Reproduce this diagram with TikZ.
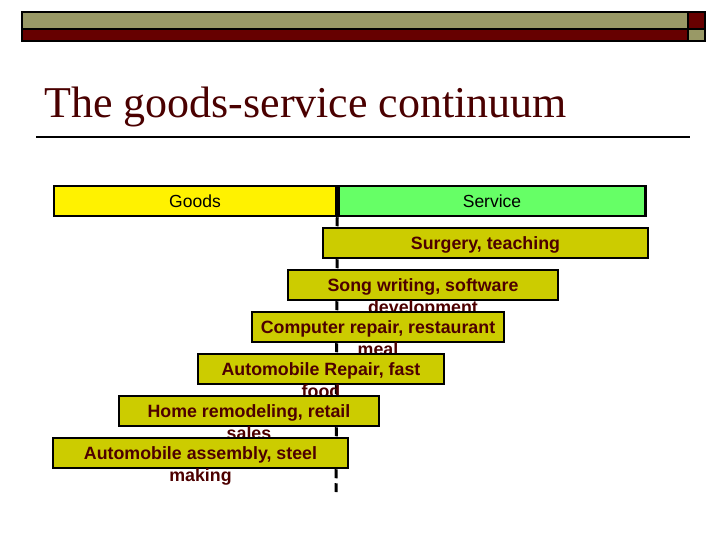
\documentclass[tikz,border=0pt]{standalone}
\usepackage{fontspec}
\setmainfont{Liberation Serif}
\setsansfont{Liberation Sans}
\usetikzlibrary{positioning}

\definecolor{barolive}{HTML}{999966}
\definecolor{barred}{HTML}{660000}
\definecolor{titlemaroon}{HTML}{4A0000}
\definecolor{servicegreen}{HTML}{66FF66}
\definecolor{stageolive}{HTML}{CCCC00}
\definecolor{stagetext}{HTML}{4D0000}

% first line sits in the box, second hangs below it
\newcommand{\stagelines}[2]{\begin{tabular}[t]{@{}c@{}}#1\\#2\end{tabular}}

\begin{document}
\begin{tikzpicture}[
    x=1pt, y=-1pt,
    node distance=0pt,
    band/.style={
        draw, line width=2.5pt,
        minimum height=30pt,
        inner sep=0pt,
        text height=12.6pt, text depth=0pt,
        font=\sffamily\fontsize{17.5}{22}\selectfont
    },
    stage/.style={
        draw, line width=2pt,
        fill=stageolive,
        minimum height=30pt,
        inner sep=0pt,
        text height=12.8pt, text depth=0pt,
        text=stagetext,
        font=\sffamily\bfseries\fontsize{17.8}{22}\selectfont
    },
]
\useasboundingbox (0,0) rectangle (720,540);

% header bars
\draw[line width=1.5pt, fill=barolive] (22,12) rectangle (688,29);
\draw[line width=1.5pt, fill=barred] (22,29) rectangle (688,41);
\draw[line width=1.5pt, fill=barred] (688,12) rectangle (705,29);
\draw[line width=1.5pt, fill=barolive] (688,29) rectangle (705,41);

% title
\node[anchor=base west, inner sep=0pt, text=titlemaroon,
      font=\fontsize{44}{50}\selectfont] (title) at (44,118)
      {The goods-service continuum};
\draw[line width=2pt] (36,137) -- (690,137);

% goods / service scale
\node[band, fill=yellow, minimum width=282pt] (goods) at (195,201) {Goods};
\node[band, fill=servicegreen, minimum width=307pt, right=of goods] (service) {Service};

\coordinate (axisend) at (336,492);
\draw[line width=3pt, dash pattern=on 9pt off 5pt] (goods.south east) -- (axisend);

% examples, from service to goods
\node[stage, minimum width=325pt] (surgery) at (485.5,243) {Surgery, teaching};
\node[stage, minimum width=270pt] (song) at (423,285) {\stagelines{Song writing, software}{development}};
\node[stage, minimum width=252pt] (computer) at (378,327) {\stagelines{Computer repair, restaurant}{meal}};
\node[stage, minimum width=246pt] (repair) at (321,369) {\stagelines{Automobile Repair, fast}{food}};
\node[stage, minimum width=260pt] (remodel) at (249,411) {\stagelines{Home remodeling, retail}{sales}};
\node[stage, minimum width=295pt] (assembly) at (200.5,453) {\stagelines{Automobile assembly, steel}{making}};

\end{tikzpicture}
\end{document}
